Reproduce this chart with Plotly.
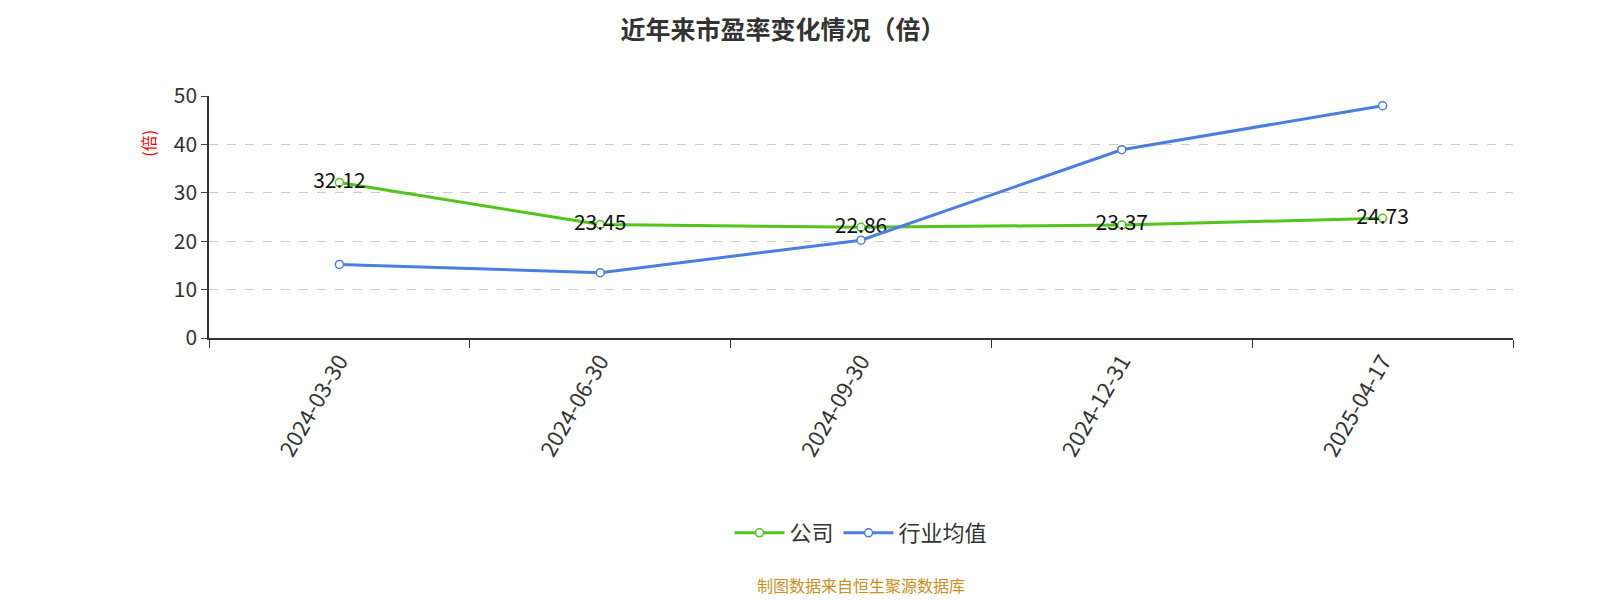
import plotly.graph_objects as go

dates = ["2024-03-30", "2024-06-30", "2024-09-30", "2024-12-31", "2025-04-17"]
company = [32.12, 23.45, 22.86, 23.37, 24.73]
industry = [15.2, 13.5, 20.2, 38.9, 48.0]

font = "Noto Sans CJK SC"
fig = go.Figure()
fig.add_trace(go.Scatter(x=dates, y=company, name="公司", mode="lines+markers+text",
    line=dict(color="#52c41a", width=3), marker=dict(size=8, color="white", line=dict(color="#52c41a", width=1.5)),
    text=[f"{v:.2f}" for v in company], textposition="middle center", textfont=dict(size=21, color="#111")))
fig.add_trace(go.Scatter(x=dates, y=industry, name="行业均值", mode="lines+markers",
    line=dict(color="#4a7fe0", width=3), marker=dict(size=8, color="white", line=dict(color="#4a7fe0", width=1.5))))
fig.update_layout(
    width=1550, height=590, plot_bgcolor="white", paper_bgcolor="white",
    font=dict(family=font, size=18, color="#333"),
    margin=dict(l=201, r=45, t=88, b=260),
    title=dict(text="<b>近年来市盈率变化情况（倍）</b>", x=0.5, xanchor="center", y=0.963, yanchor="middle", font=dict(size=25, color="#333")),
    xaxis=dict(type="category", range=[-0.5, 4.5], tickangle=-60, showline=True, linecolor="#333", linewidth=1.5,
               ticks="outside", tickson="boundaries", ticklen=8, tickcolor="#333", showgrid=False, tickfont=dict(size=22)),
    yaxis=dict(range=[0, 50], dtick=10, showline=True, linecolor="#333", linewidth=1.5, ticks="outside", ticklen=6,
               gridcolor="#ccc", griddash="dash", zeroline=False, tickfont=dict(size=21)),
    legend=dict(orientation="h", x=0.5, xanchor="center", y=-0.806, yanchor="middle", font=dict(size=22),
                itemwidth=50),
    showlegend=True,
)
fig.add_annotation(text="(倍)", textangle=-90, xref="paper", yref="paper", x=-0.047, y=0.87, xanchor="center",
                   showarrow=False, font=dict(size=16, color="red"))
fig.add_annotation(text="制图数据来自恒生聚源数据库", xref="paper", yref="paper", x=0.5, y=-1.02, yanchor="middle",
                   showarrow=False, font=dict(size=16, color="#c8901e"))
fig.write_html("out.html")
